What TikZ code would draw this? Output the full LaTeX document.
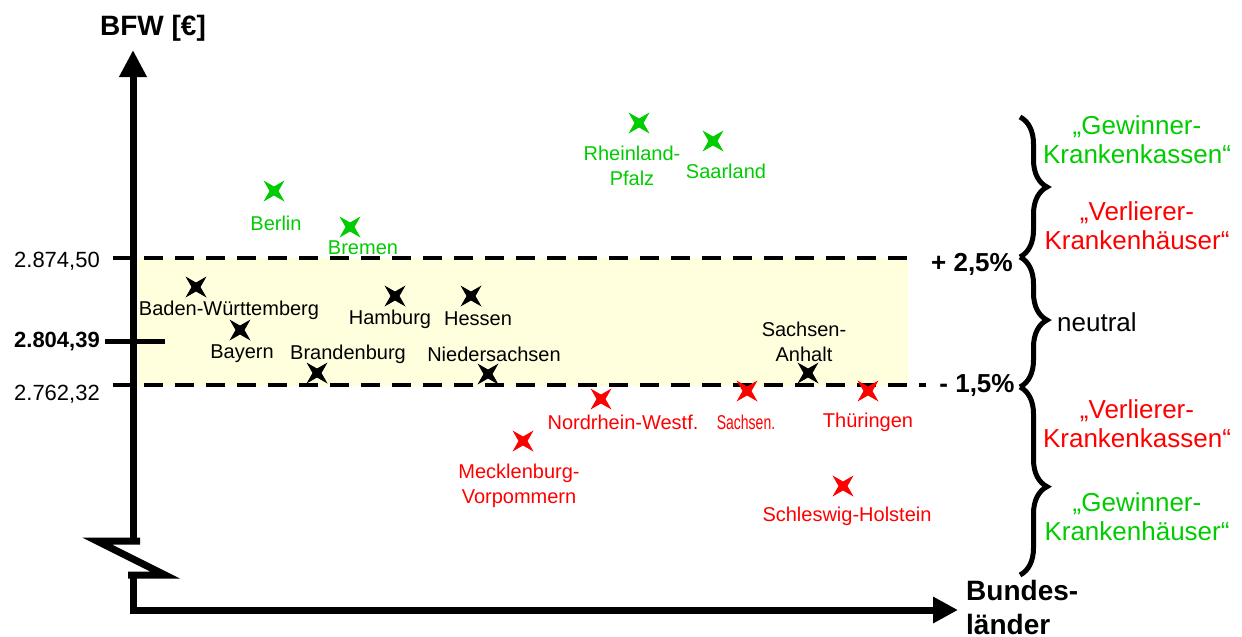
\documentclass[tikz,border=0pt]{standalone}
\usepackage{fontspec}
\setmainfont{Liberation Sans}
\usetikzlibrary{arrows.meta,decorations.pathreplacing}
\definecolor{gewinn}{RGB}{0,204,0}
\definecolor{verlust}{RGB}{255,0,0}
\definecolor{bandgelb}{RGB}{255,255,222}
\tikzset{
  land/.pic={\fill (-10.5,-10.5) -- (0,-4.5) -- (10.5,-10.5) -- (4.5,0) -- (10.5,10.5)
    -- (0,4.5) -- (-10.5,10.5) -- (-4.5,0) -- cycle;},
  lbl/.style={font=\fontsize{20}{25}\selectfont, align=center, inner sep=0pt},
  wert/.style={font=\fontsize{22}{26}\selectfont, inner sep=0pt, anchor=east},
  seite/.style={font=\fontsize{26}{29}\selectfont, align=center, inner sep=0pt},
  achse/.style={line width=7pt},
  grenze/.style={line width=4.5pt, dash pattern=on 19pt off 12pt},
  klammer/.style={decorate, decoration={brace, amplitude=27pt, #1}, line width=5pt},
  klammer/.default={aspect=0.5}
}
\begin{document}
\begin{tikzpicture}[x=1pt,y=-1pt]
\useasboundingbox (0,0) rectangle (1242,637);
% neutraler Bereich
\fill[bandgelb] (138,258) rectangle (908,386);
\draw[grenze] (113,258) -- (918,258);
\draw[grenze] (113,385) -- (926,385);
\draw[line width=5pt] (105,341) -- (165,341);
% Achsen mit Bruch
\coordinate (ytop) at (133,50);
\coordinate (xend) at (958,610);
\draw[achse, -{Triangle[length=27pt,width=26pt]}] (133,541) -- (ytop);
\draw[achse] (140,541) -- (97,541) -- (165,575) -- (128,575);
\draw[achse, -{Triangle[length=25pt,width=25pt]}] (133,575) -- (133,610) -- (xend);
\node[font=\fontsize{28}{32}\selectfont\bfseries, inner sep=0pt] (bfw) at (153,28) {BFW [€]};
\node[font=\fontsize{28}{34}\selectfont\bfseries, inner sep=0pt, align=left, anchor=west] (bl) at (966,607) {Bundes-\\länder};
% Achsenwerte
\node[wert] (w1) at (100,261) {2.874,50};
\node[wert, font=\fontsize{22}{26}\selectfont\bfseries] (w2) at (100,342) {2.804,39};
\node[wert] (w3) at (100,394) {2.762,32};
\node[font=\fontsize{26}{30}\selectfont\bfseries, inner sep=0pt] (p1) at (972,264) {+ 2,5\%};
\node[font=\fontsize{26}{30}\selectfont\bfseries, inner sep=0pt] (p2) at (977,385) {- 1,5\%};
% Klammern
\draw[klammer] (1020,117) -- (1020,257);
\draw[klammer={aspect=0.485}] (1020,257) -- (1020,387);
\draw[klammer={aspect=0.53}] (1020,387) -- (1020,575);
\node[seite, gewinn] (gk) at (1137,140) {„Gewinner-\\Krankenkassen“};
\node[seite, verlust] (vh) at (1137,226) {„Verlierer-\\Krankenhäuser“};
\node[seite, anchor=west] (neu) at (1057,322) {neutral};
\node[seite, verlust] (vk) at (1137,424) {„Verlierer-\\Krankenkassen“};
\node[seite, gewinn] (gh) at (1137,517) {„Gewinner-\\Krankenhäuser“};
% Bundeslaender
\foreach \x/\y/\farbe in {196/287/black, 240/330/black, 317/373/black, 395/296/black,
    471/296/black, 488/374/black, 808/373/black,
    274/191/gewinn, 350/227/gewinn, 639/123/gewinn, 713/141/gewinn,
    601/399/verlust, 523/441/verlust, 747/391/verlust, 868/391/verlust, 843/486/verlust}
  \pic[color=\farbe] at (\x,\y) {land};
\node[lbl] (bw) at (229,310) {Baden-Württemberg};
\node[lbl] (by) at (242,354) {Bayern};
\node[lbl] (bb) at (348,354) {Brandenburg};
\node[lbl] (hh) at (390,319) {Hamburg};
\node[lbl] (he) at (478,319) {Hessen};
\node[lbl] (ni) at (494,354) {Niedersachsen};
\node[lbl] (st) at (804,342) {Sachsen-\\Anhalt};
\node[lbl, gewinn] (be) at (276,223) {Berlin};
\node[lbl, gewinn] (hb) at (363,248) {Bremen};
\node[lbl, gewinn] (rp) at (632,166) {Rheinland-\\Pfalz};
\node[lbl, gewinn] (sl) at (726,171) {Saarland};
\node[lbl, verlust] (nw) at (623,422) {Nordrhein-Westf.};
\node[lbl, verlust] (sn) at (746,422) {\scalebox{0.7}[1]{Sachsen.}};
\node[lbl, verlust] (th) at (868,422) {Thüringen};
\node[lbl, verlust] (mv) at (519,486) {Mecklenburg-\\Vorpommern};
\node[lbl, verlust] (sh) at (847,516) {Schleswig-Holstein};
\end{tikzpicture}
\end{document}
